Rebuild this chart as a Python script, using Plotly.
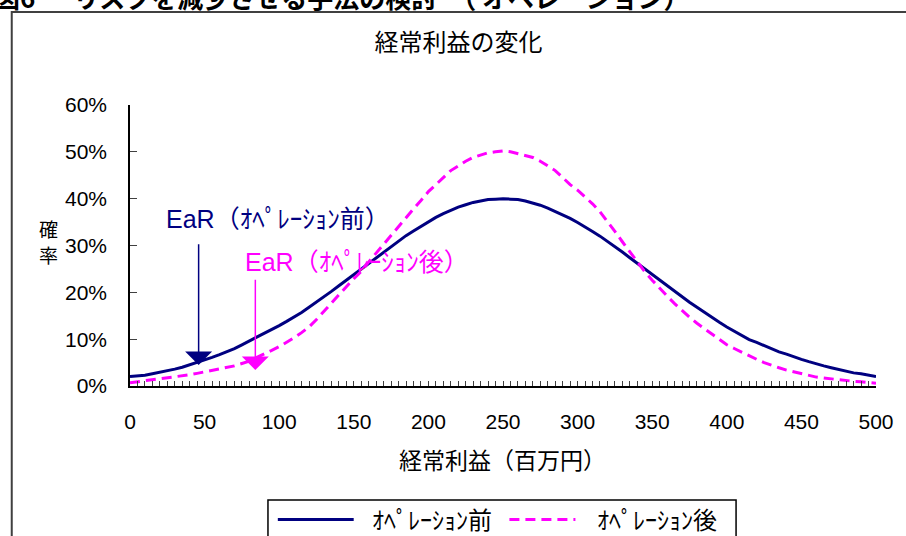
import plotly.graph_objects as go

# ---------------- data ----------------
earnings = list(range(0, 505, 5))  # 経常利益（百万円） categories 0,5,...,500

before_pct = [  # オペレーション前, probability in %
    2.0, 2.1, 2.3, 2.6, 2.9, 3.2, 3.6, 4.0, 4.5, 5.0,
    5.5, 6.1, 6.7, 7.3, 8.0, 8.8, 9.6, 10.4, 11.2, 12.0,
    12.9, 13.8, 14.7, 15.7, 16.8, 17.9, 19.0, 20.2, 21.4, 22.6,
    23.8, 25.0, 26.2, 27.4, 28.6, 29.8, 31.0, 32.1, 33.1, 34.1,
    35.1, 36.0, 36.8, 37.5, 38.2, 38.7, 39.2, 39.5, 39.8, 39.9,
    40.0,
    39.9, 39.8, 39.5, 39.1, 38.6, 38.0, 37.3, 36.6, 35.8, 34.9,
    34.0, 33.0, 32.0, 30.9, 29.8, 28.6, 27.4, 26.2, 25.0, 23.8,
    22.6, 21.4, 20.2, 19.0, 17.9, 16.8, 15.7, 14.6, 13.6, 12.6,
    11.7, 10.8, 9.9, 9.3, 8.6, 7.9, 7.3, 6.8, 6.2, 5.7,
    5.2, 4.7, 4.3, 3.9, 3.5, 3.1, 2.8, 2.6, 2.3, 2.0,
]

after_pct = [  # オペレーション後, probability in %
    0.7, 0.9, 1.1, 1.3, 1.6, 1.8, 2.0, 2.2, 2.4, 2.7,
    3.0, 3.3, 3.6, 3.9, 4.3, 4.8, 5.3, 6.1, 6.8, 7.6,
    8.4, 9.3, 10.3, 11.4, 12.6, 14.2, 16.0, 17.8, 19.5, 21.2,
    22.9, 24.5, 26.5, 28.4, 30.3, 32.2, 34.2, 36.0, 37.8, 39.6,
    41.5, 43.0, 44.6, 46.0, 47.0, 48.0, 48.8, 49.3, 49.8, 50.0,
    50.2,
    50.0, 49.6, 49.2, 48.8, 48.0, 47.0, 46.0, 44.5, 43.0, 41.8,
    40.4, 38.9, 37.2, 35.2, 33.0, 30.8, 28.6, 26.4, 24.4, 22.6,
    20.8, 19.2, 17.6, 16.1, 14.7, 13.4, 12.2, 11.0, 9.9, 8.8,
    8.0, 7.2, 6.4, 5.7, 5.0, 4.4, 3.9, 3.4, 3.0, 2.6,
    2.2, 1.9, 1.7, 1.5, 1.4, 1.2, 1.0, 0.9, 0.8, 0.6,
]

x_tick_vals = [0, 50, 100, 150, 200, 250, 300, 350, 400, 450, 500]
x_tick_text = ["0", "50", "100", "150", "200", "250", "300", "350", "400", "450", "500"]
y_tick_vals = [0, 10, 20, 30, 40, 50, 60]
y_tick_text = ["0%", "10%", "20%", "30%", "40%", "50%", "60%"]

series_names = ["ｵﾍﾟﾚｰｼｮﾝ前", "ｵﾍﾟﾚｰｼｮﾝ後"]
ear_labels = ["EaR（ｵﾍﾟﾚｰｼｮﾝ前）", "EaR（ｵﾍﾟﾚｰｼｮﾝ後）"]
ear_x = [46, 84]              # EaR positions on the earnings axis
ear_arrow_tip = [4.5, 3.4]    # arrow tip height (%)
ear_arrow_top = [30.6, 23.0]  # arrow start height (%)

chart_title = "経常利益の変化"
x_title = "経常利益（百万円）"
y_title_chars = ["確", "率"]
header = "<b>図6　\u00a0\u00a0リスクを減少させる手法の検討　（\u00a0オペレーション）</b>"

# ---------------- layout geometry ----------------
W, H = 906, 536
L, R, T, B = 130, 19, 105, 150
PW, PH = W - L - R, H - T - B

def px(xp):
    return (xp - L) / PW

def py(yp):
    return (H - B - yp) / PH

NAVY = "#000080"
MAGENTA = "#FF00FF"
LAT = "Liberation Sans, Noto Sans CJK JP, sans-serif"
JP = "Noto Sans CJK JP, sans-serif"
DASH = "10px,6px"

fig = go.Figure()
fig.add_trace(go.Scatter(x=earnings, y=before_pct, mode="lines", name=series_names[0],
                         line=dict(color=NAVY, width=3)))
fig.add_trace(go.Scatter(x=earnings, y=after_pct, mode="lines", name=series_names[1],
                         line=dict(color=MAGENTA, width=3, dash=DASH)))

fig.update_layout(
    width=W, height=H,
    margin=dict(l=L, r=R, t=T, b=B, pad=0),
    paper_bgcolor="white", plot_bgcolor="white",
    showlegend=False,
    font=dict(family=LAT, color="black"),
    title=dict(text=chart_title, font=dict(family=JP, size=24, color="black"),
               xref="container", yref="container",
               x=458.5 / W, y=1 - 43 / H, xanchor="center", yanchor="middle"),
    xaxis=dict(range=[0, 500], tickmode="array", tickvals=x_tick_vals, ticktext=x_tick_text,
               ticks="inside", ticklen=5, tickwidth=1, tickcolor="#404040",
               minor=dict(tickmode="linear", tick0=0, dtick=5, ticks="inside",
                          ticklen=5, tickwidth=1, tickcolor="#404040", showgrid=False),
               showline=True, linecolor="black", linewidth=1.5,
               showgrid=False, zeroline=False,
               tickfont=dict(family=LAT, size=21, color="black"),
               ticklabelstandoff=16, fixedrange=True),
    yaxis=dict(range=[0, 60], tickmode="array", tickvals=y_tick_vals, ticktext=y_tick_text,
               ticks="inside", ticklen=7, tickwidth=1, tickcolor="#404040",
               showline=True, linecolor="black", linewidth=1.5,
               showgrid=False, zeroline=False,
               tickfont=dict(family=LAT, size=21, color="black"),
               ticklabelstandoff=17, fixedrange=True),
)

ann = []
# cut-off page header
ann.append(dict(text=header, xref="paper", yref="paper", x=px(-10), y=py(-4),
                xanchor="left", yanchor="middle", showarrow=False,
                font=dict(family=JP, size=26, color="black")))
# y axis title (vertical, one character per line)
for ch, yc in zip(y_title_chars, [228, 254]):
    ann.append(dict(text=ch, xref="paper", yref="paper", x=px(47.5), y=py(yc),
                    xanchor="center", yanchor="middle", showarrow=False,
                    font=dict(family=JP, size=19, color="black")))
# x axis title
ann.append(dict(text=x_title, xref="paper", yref="paper", x=px(507.5), y=py(459),
                xanchor="center", yanchor="middle", showarrow=False,
                font=dict(family=JP, size=23, color="black")))
# EaR labels
ann.append(dict(text=ear_labels[0], xref="paper", yref="paper", x=px(280), y=py(219),
                xanchor="center", yanchor="middle", showarrow=False,
                font=dict(family=LAT, size=25, color=NAVY)))
ann.append(dict(text=ear_labels[1], xref="paper", yref="paper", x=px(360), y=py(262),
                xanchor="center", yanchor="middle", showarrow=False,
                font=dict(family=LAT, size=25, color=MAGENTA)))
# EaR arrows
for i, col in enumerate([NAVY, MAGENTA]):
    ann.append(dict(text="", xref="x", yref="y", axref="x", ayref="y",
                    x=ear_x[i], y=ear_arrow_tip[i], ax=ear_x[i], ay=ear_arrow_top[i],
                    showarrow=True, arrowhead=1, arrowsize=3.0, arrowwidth=1.5,
                    arrowcolor=col))
# legend texts
ann.append(dict(text=series_names[0], xref="paper", yref="paper", x=px(436), y=py(518),
                xanchor="center", yanchor="middle", showarrow=False,
                font=dict(family=JP, size=24, color="black")))
ann.append(dict(text=series_names[1], xref="paper", yref="paper", x=px(665), y=py(518),
                xanchor="center", yanchor="middle", showarrow=False,
                font=dict(family=JP, size=24, color="black")))
fig.update_layout(annotations=ann)

shapes = [
    # outer chart frame
    dict(type="rect", xref="paper", yref="paper", x0=px(10), x1=px(940), y0=py(570), y1=py(12),
         line=dict(color="#404040", width=2), fillcolor="rgba(0,0,0,0)", layer="below"),
    # legend box
    dict(type="rect", xref="paper", yref="paper", x0=px(270), x1=px(745), y0=py(560), y1=py(500),
         line=dict(color="black", width=1.5), fillcolor="rgba(0,0,0,0)"),
    dict(type="line", xref="paper", yref="paper", x0=px(280), x1=px(357), y0=py(519.5), y1=py(519.5),
         line=dict(color=NAVY, width=3)),
    dict(type="line", xref="paper", yref="paper", x0=px(515), x1=px(582), y0=py(519.5), y1=py(519.5),
         line=dict(color=MAGENTA, width=3, dash=DASH)),
]
fig.update_layout(shapes=shapes)

fig.write_html("out.html", config={"displayModeBar": False})
